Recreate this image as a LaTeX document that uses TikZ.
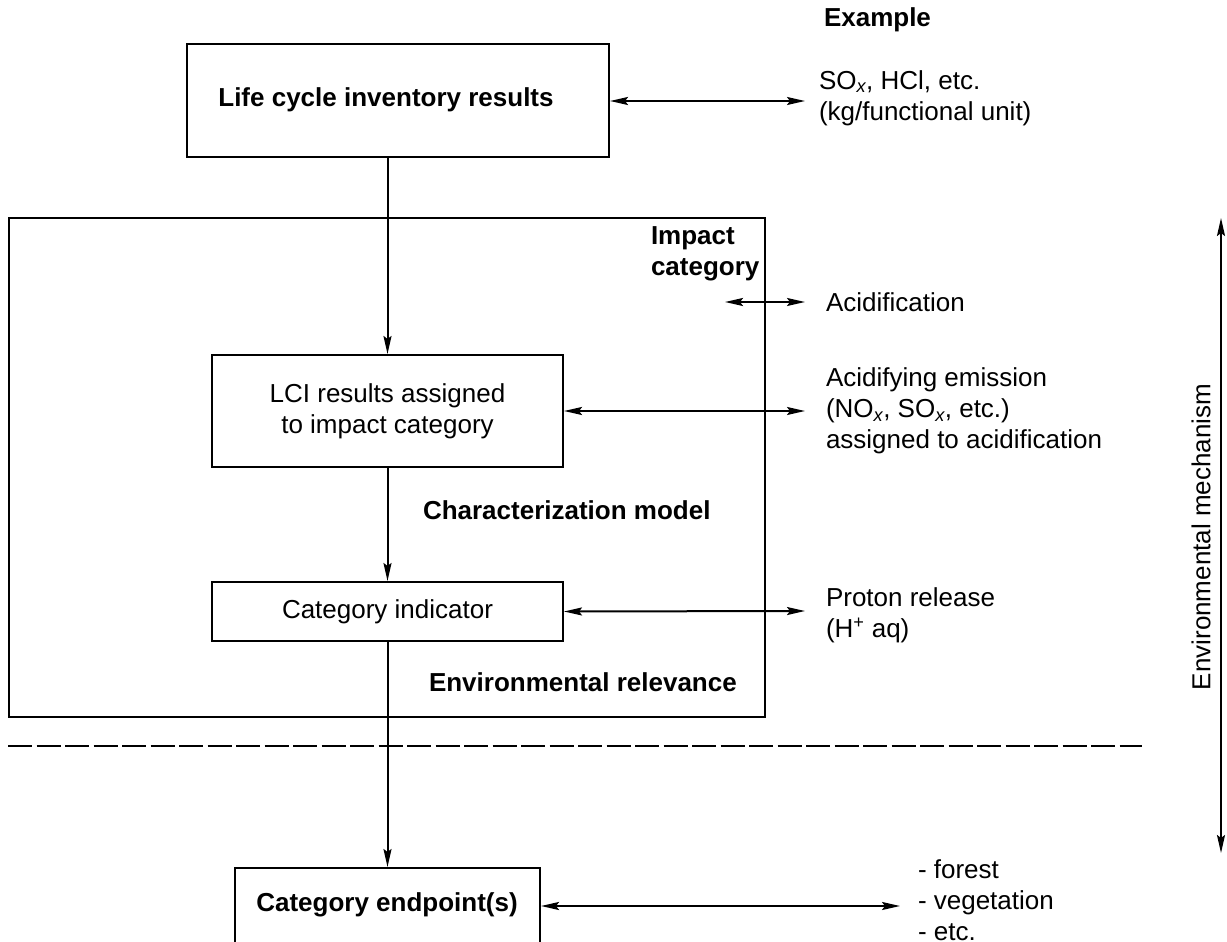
\documentclass[tikz,border=0pt]{standalone}
\usepackage{fontspec}
\setmainfont{Liberation Sans}
\usetikzlibrary{arrows.meta}
\begin{document}
\begin{tikzpicture}[x=1pt,y=-1pt, line width=2pt,
  every node/.style={font=\fontsize{26}{31}\selectfont},
  head/.tip={Stealth[length=18pt,width=8pt,inset=3pt]},
  arrowline/.style={-head},
  dblarrow/.style={head-head},
  box/.style={draw, rectangle, align=center, inner sep=0pt},
  lbl/.style={anchor=west, align=left, inner sep=0pt},
  bold/.style={font=\fontsize{26}{31}\selectfont\bfseries}]
\useasboundingbox (0,0) rectangle (1227,942);
\clip (0,0) rectangle (1227,942);

% boxes of the main chain
\node[box, minimum width=422pt, minimum height=113pt] (lci) at (398,100.5) {};
\node[bold, inner sep=0pt] (lcitext) at (386,100) {Life cycle inventory results};
\node[box, minimum width=756pt, minimum height=499pt] (impact) at (387,467.5) {};
\node[box, minimum width=351pt, minimum height=112pt] (assigned) at (387.5,411) {LCI results assigned\\to impact category};
\node[box, minimum width=351pt, minimum height=59pt] (indicator) at (387.5,611.5) {Category indicator};
\node[box, minimum width=305pt, minimum height=84pt] (endpoint) at (387.5,910) {};
\node[bold, inner sep=0pt] (endtext) at (387,905) {Category endpoint(s)};

% labels inside the impact box
\node[lbl, bold] (impcat) at (650,254) {Impact\\category};
\node[lbl, bold] (charmodel) at (422,510) {Characterization model};
\node[lbl, bold] (envrel) at (428,682) {Environmental relevance};

% example column
\node[lbl, bold] (example) at (823,20) {Example};
\node[lbl] (ex1) at (818,98) {SO\textsubscript{\itshape x}, HCl, etc.\\(kg/functional unit)};
\node[lbl] (ex2) at (825,302) {Acidification};
\node[lbl] (ex3) at (825,411) {Acidifying emission\\(NO\textsubscript{\itshape x}, SO\textsubscript{\itshape x}, etc.)\\assigned to acidification};
\node[lbl] (ex4) at (825,615) {Proton release\\(H\textsuperscript{+} aq)};
\node[lbl] (ex5) at (917,900) {- forest\\- vegetation\\- etc.};

% free ends of the example arrows
\coordinate (e1) at (805,101);
\coordinate (e2l) at (725,302);
\coordinate (e2r) at (805,302);
\coordinate (e3) at (805,411);
\coordinate (e4) at (805,611);
\coordinate (e5) at (900,906);

% chain connectors
\draw[arrowline] (lci.south -| assigned.north) -- (assigned.north);
\draw[arrowline] (assigned.south) -- (indicator.north);
\draw[arrowline] (indicator.south) -- (endpoint.north);

% example connectors
\draw[dblarrow] (lci.east |- e1) -- (e1);
\draw[dblarrow] (e2l) -- (e2r);
\draw[dblarrow] (assigned.east) -- (e3);
\draw[dblarrow] (indicator.east) -- (e4);
\draw[dblarrow] (endpoint.east |- e5) -- (e5);

% boundary between midpoint and endpoint
\draw[dash pattern=on 24pt off 4.5pt] (8,746) -- (1142,746);

% environmental mechanism axis
\coordinate (mtop) at (1221,218);
\coordinate (mbot) at (1221,853);
\draw[dblarrow] (mtop) -- (mbot);
\node[rotate=90, inner sep=0pt] (mech) at (1201,537) {Environmental mechanism};
\end{tikzpicture}
\end{document}
